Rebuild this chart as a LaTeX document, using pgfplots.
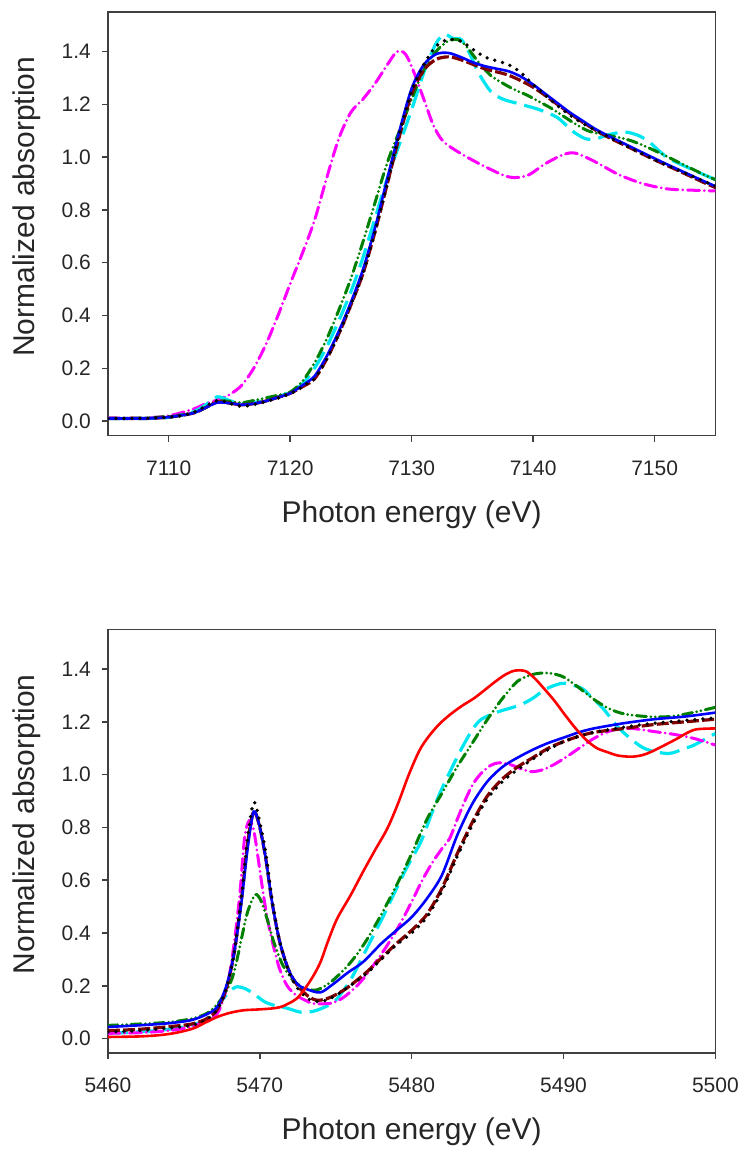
\documentclass[border=0pt]{standalone}
\usepackage{fontspec}
\setmainfont{Liberation Sans}
\usepackage{pgfplots}
\pgfplotsset{compat=1.18}

\definecolor{cdred}{RGB}{128,0,0}
\definecolor{cgreen}{RGB}{0,128,0}
\definecolor{ccyan}{RGB}{0,230,240}
\definecolor{cmag}{RGB}{255,0,255}
\definecolor{cblue}{RGB}{0,0,255}
\definecolor{cred}{RGB}{255,0,0}
\definecolor{axgray}{RGB}{64,64,64}

\pgfplotsset{
  xasbase/.style={
    scale only axis, width=304pt, height=212pt,
    ymin=-0.055, ymax=1.55,
    ytick={0,0.2,0.4,0.6,0.8,1.0,1.2,1.4},
    /pgf/number format/assume math mode=true,
    yticklabel style={/pgf/number format/.cd, fixed, fixed zerofill, precision=1, /tikz/.cd, xshift=-2pt},
    xticklabel style={/pgf/number format/.cd, set thousands separator={}, /tikz/.cd, yshift=-6pt},
    tick label style={font=\fontsize{10.5}{12}\selectfont, text=black!85},
    label style={font=\fontsize{15}{18}\selectfont, text=black!85},
    xlabel={Photon energy (eV)}, ylabel={Normalized absorption},
    xlabel style={at={(axis description cs:0.5,-0.186)}, anchor=center},
    ylabel style={at={(axis description cs:-0.134,0.54)}, anchor=center, rotate=0},
    axis line style={axgray, line width=0.75pt},
    every tick/.style={axgray, line width=0.75pt},
    major tick length=3pt, tick align=outside,
    xtick pos=bottom, ytick pos=left,
    clip=true,
  },
  pdot/.style={black, line width=1.9pt, line cap=round, dash pattern=on 0pt off 4pt},
  pdred/.style={cdred, line width=1.6pt, dash pattern=on 6pt off 1.6pt},
  pblue/.style={cblue, line width=1.3pt},
  pgreen/.style={cgreen, line width=1.5pt, line cap=round, dash pattern=on 5pt off 2.2pt on 0pt off 2.2pt on 0pt off 2.2pt},
  pcyan/.style={ccyan, line width=1.6pt, dash pattern=on 10pt off 4pt},
  pmag/.style={cmag, line width=1.5pt, line cap=round, dash pattern=on 6pt off 2.4pt on 0pt off 2.4pt},
  pred/.style={cred, line width=1.3pt},
}

\begin{document}
\begin{tikzpicture}
\useasboundingbox (-54pt,-357pt) rectangle (319.5pt,218pt);

% ---------- top: 7105-7155 eV ----------
\begin{axis}[xasbase, at={(0,0)}, xmin=7105, xmax=7155, xtick={7110,7120,7130,7140,7150}]
\addplot[pmag, smooth] coordinates {
(7105,0.012)(7108,0.012)(7110,0.02)(7112,0.045)(7113,0.065)(7114,0.08)(7115,0.10)
(7116,0.135)(7117,0.20)(7118,0.29)(7119,0.40)(7120,0.52)(7121,0.635)(7122,0.76)
(7123,0.92)(7124,1.07)(7125,1.17)(7126,1.22)(7127,1.28)(7128,1.35)(7128.8,1.40)
(7129.5,1.39)(7130.2,1.32)(7131,1.22)(7131.8,1.12)(7132.6,1.06)(7134,1.015)
(7136,0.965)(7138,0.925)(7139.5,0.93)(7141,0.975)(7142.5,1.01)(7143.5,1.015)
(7145,0.985)(7147,0.935)(7149,0.90)(7151,0.88)(7153,0.875)(7155,0.872)};
\addplot[pcyan, smooth] coordinates {
(7105,0.010)(7108,0.010)(7110,0.014)(7112,0.035)(7113,0.06)(7114,0.092)(7115,0.078)
(7116,0.065)(7117,0.07)(7118,0.08)(7119,0.092)(7120,0.11)(7121,0.14)(7122,0.20)
(7123,0.28)(7124,0.38)(7125,0.49)(7126,0.62)(7127,0.77)(7128,0.92)(7129,1.05)
(7130,1.18)(7131,1.32)(7132,1.43)(7132.7,1.465)(7133.4,1.45)(7134.1,1.445)
(7134.8,1.39)(7135.5,1.32)(7136.5,1.25)(7137.5,1.22)(7139,1.20)(7140.5,1.18)
(7142,1.15)(7143.2,1.10)(7144.3,1.07)(7145.2,1.07)(7146.2,1.085)(7147.5,1.095)
(7148.5,1.085)(7149.5,1.06)(7151,1.00)(7153,0.955)(7155,0.915)};
\addplot[pgreen, smooth] coordinates {
(7105,0.010)(7108,0.012)(7110,0.018)(7112,0.03)(7113,0.05)(7114,0.075)(7115,0.075)
(7116,0.07)(7117,0.078)(7118,0.088)(7119,0.098)(7120,0.11)(7121,0.15)(7122,0.22)
(7123,0.31)(7124,0.42)(7125,0.54)(7126,0.68)(7127,0.83)(7128,0.98)(7129,1.10)
(7130,1.22)(7131,1.33)(7132,1.40)(7133,1.44)(7133.8,1.445)(7134.5,1.42)
(7135.5,1.36)(7136.5,1.31)(7137.5,1.28)(7138.5,1.255)(7139.5,1.235)(7140.5,1.21)
(7141.5,1.185)(7142.5,1.155)(7143.5,1.125)(7144.5,1.10)(7145.5,1.088)(7146.5,1.08)
(7147.5,1.07)(7148.5,1.055)(7150,1.025)(7152,0.98)(7154,0.935)(7155,0.915)};
\addplot[pdred, smooth] coordinates {
(7105,0.010)(7108,0.010)(7110,0.015)(7112,0.03)(7113,0.05)(7114,0.072)(7115,0.068)
(7116,0.062)(7117,0.066)(7118,0.076)(7119,0.09)(7120,0.105)(7121,0.13)(7122,0.16)
(7123,0.235)(7124,0.33)(7125,0.44)(7126,0.56)(7127,0.72)(7128,0.90)(7129,1.08)
(7130,1.24)(7131,1.33)(7132,1.37)(7133,1.38)(7134,1.37)(7136,1.335)(7138,1.31)
(7140,1.265)(7142,1.20)(7144,1.135)(7146,1.08)(7148,1.035)(7150,0.99)(7152,0.948)
(7154,0.905)(7155,0.885)};
\addplot[pblue, smooth] coordinates {
(7105,0.010)(7108,0.010)(7110,0.015)(7112,0.03)(7113,0.05)(7114,0.07)(7115,0.068)
(7116,0.062)(7117,0.066)(7118,0.076)(7119,0.09)(7120,0.105)(7121,0.135)(7122,0.17)
(7123,0.245)(7124,0.34)(7125,0.45)(7126,0.575)(7127,0.735)(7128,0.92)(7129,1.10)
(7130,1.26)(7131,1.35)(7132,1.39)(7133,1.395)(7134,1.38)(7135,1.36)(7136,1.345)
(7137,1.335)(7138,1.325)(7139,1.305)(7140,1.275)(7141,1.24)(7142,1.205)(7143,1.17)
(7144,1.14)(7145,1.11)(7146,1.085)(7148,1.04)(7150,0.995)(7152,0.952)(7154,0.91)
(7155,0.89)};
\addplot[pdot, smooth] coordinates {
(7105,0.010)(7107,0.010)(7109,0.012)(7110,0.015)(7111,0.02)(7112,0.032)(7113,0.055)
(7114,0.078)(7114.8,0.072)(7115.6,0.058)(7116.5,0.058)(7117.5,0.068)(7118.5,0.08)
(7119.5,0.095)(7120.5,0.115)(7121.3,0.14)(7122,0.16)(7123,0.235)(7124,0.33)
(7125,0.44)(7126,0.56)(7127,0.72)(7128,0.90)(7129,1.09)(7130,1.25)(7131,1.35)
(7132,1.42)(7133,1.445)(7134,1.44)(7135,1.41)(7136,1.38)(7137,1.365)(7138,1.35)
(7139,1.32)(7140,1.275)(7141,1.235)(7142,1.195)(7143,1.16)(7144,1.13)(7145,1.105)
(7146.5,1.07)(7148,1.035)(7150,0.99)(7152,0.95)(7154,0.91)(7155,0.89)};
\end{axis}

% ---------- bottom: 5460-5500 eV ----------
\begin{axis}[xasbase, at={(0,-309pt)}, xmin=5460, xmax=5500, xtick={5460,5470,5480,5490,5500}]
\addplot[pcyan, smooth] coordinates {
(5460,0.02)(5462,0.025)(5464,0.035)(5465.5,0.05)(5466.5,0.075)(5467.2,0.12)
(5467.8,0.165)(5468.4,0.195)(5469,0.19)(5469.6,0.17)(5470.3,0.14)(5471,0.125)
(5471.8,0.115)(5472.7,0.10)(5473.5,0.103)(5474.3,0.12)(5475,0.145)(5475.9,0.215)
(5476.6,0.29)(5477.3,0.37)(5478.1,0.46)(5478.9,0.556)(5479.7,0.65)(5480.6,0.745)
(5481.3,0.85)(5481.9,0.935)(5482.6,1.02)(5483.3,1.10)(5484,1.17)(5484.6,1.21)
(5485.7,1.238)(5487.1,1.263)(5488,1.29)(5488.7,1.32)(5489.5,1.34)(5490.1,1.346)
(5491.2,1.327)(5491.9,1.29)(5492.6,1.251)(5493.3,1.20)(5493.9,1.162)(5495.3,1.10)
(5496.9,1.08)(5498,1.10)(5498.6,1.112)(5500,1.156)};
\addplot[pmag, smooth] coordinates {
(5460,0.02)(5462,0.022)(5464,0.03)(5465.5,0.045)(5466.5,0.07)(5467.2,0.095)
(5467.6,0.15)(5468,0.24)(5468.4,0.40)(5468.7,0.556)(5469,0.76)(5469.3,0.825)
(5469.6,0.79)(5469.9,0.68)(5470.2,0.56)(5470.5,0.455)(5470.9,0.35)(5471.3,0.265)
(5471.8,0.20)(5472.4,0.164)(5473,0.145)(5473.5,0.133)(5474.6,0.133)(5475.2,0.145)
(5475.7,0.164)(5476.4,0.20)(5477,0.24)(5477.7,0.295)(5478.4,0.354)(5479.2,0.43)
(5480,0.518)(5480.7,0.60)(5481.4,0.67)(5482,0.72)(5482.5,0.758)(5483,0.83)
(5483.5,0.90)(5484,0.96)(5484.5,1.00)(5485.2,1.035)(5485.8,1.045)(5486.6,1.036)
(5487.3,1.02)(5487.9,1.011)(5488.6,1.018)(5489.3,1.036)(5490,1.06)(5490.7,1.087)
(5491.4,1.115)(5492,1.137)(5492.8,1.16)(5493.7,1.175)(5494.5,1.175)(5495.3,1.169)
(5496.1,1.162)(5496.9,1.156)(5497.8,1.147)(5498.6,1.137)(5499.3,1.125)(5500,1.112)};
\addplot[pgreen, smooth] coordinates {
(5460,0.05)(5462,0.055)(5464,0.062)(5465.5,0.075)(5466.5,0.095)(5467.2,0.13)
(5467.8,0.18)(5468.3,0.25)(5468.8,0.38)(5469.2,0.48)(5469.7,0.545)(5470.1,0.52)
(5470.5,0.45)(5470.9,0.37)(5471.5,0.28)(5472.2,0.22)(5473,0.19)(5473.8,0.185)
(5474.8,0.22)(5476,0.29)(5477,0.37)(5478,0.47)(5479,0.58)(5480,0.70)(5481,0.83)
(5482,0.93)(5483,1.03)(5484,1.12)(5485,1.21)(5486,1.29)(5487,1.355)(5488,1.38)
(5489,1.385)(5490,1.37)(5491,1.33)(5492,1.285)(5493,1.25)(5494,1.23)(5495.5,1.22)
(5497,1.22)(5498.5,1.235)(5500,1.255)};
\addplot[pdred, smooth] coordinates {
(5460,0.03)(5462,0.035)(5464,0.045)(5465.5,0.055)(5466.5,0.075)(5467.2,0.11)
(5467.8,0.19)(5468.3,0.32)(5468.8,0.53)(5469.2,0.74)(5469.6,0.86)(5470,0.80)
(5470.4,0.68)(5470.8,0.52)(5471.3,0.37)(5471.9,0.26)(5472.5,0.20)(5473.2,0.16)
(5473.8,0.145)(5474.6,0.155)(5475.7,0.19)(5477,0.25)(5478,0.305)(5479,0.36)
(5480,0.41)(5481,0.47)(5482,0.57)(5483,0.70)(5484,0.82)(5485,0.92)(5486,0.985)
(5487,1.03)(5488,1.065)(5489,1.10)(5490,1.125)(5491,1.145)(5492,1.16)(5494,1.175)
(5496,1.19)(5498,1.20)(5500,1.21)};
\addplot[pblue, smooth] coordinates {
(5460,0.044)(5462,0.05)(5464,0.058)(5465.5,0.07)(5466.5,0.092)(5467.2,0.12)
(5467.8,0.20)(5468.3,0.32)(5468.8,0.52)(5469.2,0.72)(5469.6,0.86)(5470,0.80)
(5470.4,0.68)(5470.8,0.52)(5471.3,0.37)(5471.9,0.26)(5472.5,0.205)(5473.2,0.185)
(5474,0.175)(5474.8,0.205)(5475.8,0.25)(5476.8,0.29)(5478,0.36)(5479,0.41)
(5480,0.46)(5481,0.53)(5482,0.62)(5483,0.77)(5484,0.89)(5485,0.975)(5486,1.03)
(5487,1.065)(5488,1.095)(5489,1.12)(5490,1.14)(5491,1.16)(5492,1.175)(5494,1.195)
(5496,1.21)(5498,1.22)(5500,1.235)};
\addplot[pdot, smooth] coordinates {
(5460,0.025)(5462,0.03)(5464,0.04)(5465.5,0.05)(5466.5,0.07)(5467.2,0.11)
(5467.8,0.19)(5468.3,0.32)(5468.8,0.54)(5469.2,0.76)(5469.6,0.895)(5470,0.82)
(5470.4,0.70)(5470.8,0.53)(5471.3,0.37)(5471.9,0.255)(5472.5,0.19)(5473.2,0.15)
(5473.8,0.14)(5474.6,0.15)(5475.7,0.19)(5477,0.245)(5478,0.30)(5479,0.355)
(5480,0.40)(5481,0.46)(5482,0.56)(5483,0.69)(5484,0.81)(5485,0.91)(5486,0.975)
(5487,1.02)(5488,1.06)(5489,1.095)(5490,1.125)(5491,1.145)(5492,1.16)(5494,1.18)
(5496,1.195)(5498,1.205)(5500,1.215)};
\addplot[pred, smooth] coordinates {
(5460,0.006)(5462,0.008)(5463.4,0.013)(5464.5,0.022)(5465.6,0.038)(5466.4,0.06)
(5467.2,0.082)(5468,0.097)(5468.9,0.107)(5469.8,0.11)(5470.8,0.114)(5471.4,0.12)
(5471.9,0.133)(5472.4,0.15)(5472.9,0.183)(5473.5,0.235)(5474,0.29)(5474.5,0.37)
(5475.1,0.455)(5476,0.545)(5476.8,0.632)(5477.6,0.715)(5478.4,0.796)(5479.1,0.89)
(5479.8,0.998)(5480.5,1.09)(5481.1,1.143)(5481.8,1.19)(5482.5,1.226)(5483.3,1.26)
(5484.1,1.289)(5484.8,1.32)(5485.5,1.352)(5486.2,1.38)(5486.8,1.394)(5487.5,1.392)
(5488.1,1.365)(5488.7,1.327)(5489.4,1.28)(5490.1,1.226)(5490.8,1.175)(5491.5,1.131)
(5492.2,1.10)(5492.8,1.087)(5493.6,1.072)(5494.5,1.068)(5495.2,1.074)(5495.8,1.087)
(5496.6,1.11)(5497.5,1.137)(5498.2,1.16)(5498.8,1.172)(5500,1.175)};
\end{axis}
\end{tikzpicture}
\end{document}
